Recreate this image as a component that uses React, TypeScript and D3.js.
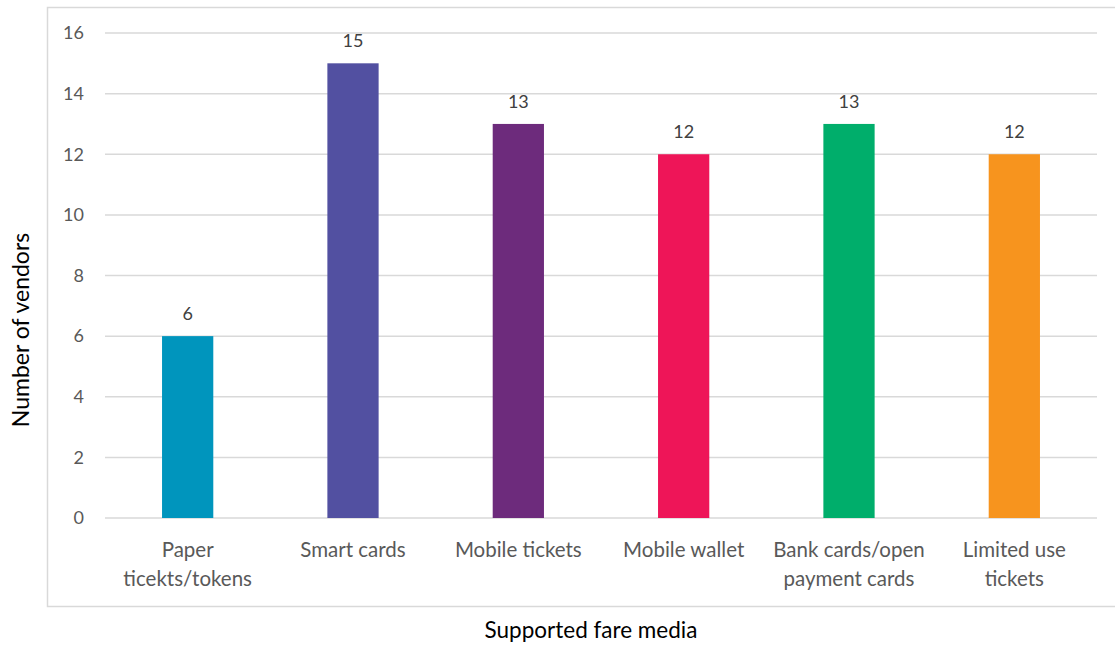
import React from "react";
import * as d3 from "d3";

const categories: string[][] = [
  ["Paper", "ticekts/tokens"],
  ["Smart cards"],
  ["Mobile tickets"],
  ["Mobile wallet"],
  ["Bank cards/open", "payment cards"],
  ["Limited use", "tickets"],
];
const values: number[] = [6, 15, 13, 12, 13, 12];
const colors: string[] = ["#0095BD", "#5250A1", "#6D2B7C", "#EE1558", "#00AE6B", "#F7941E"];
const yTicks: number[] = [0, 2, 4, 6, 8, 10, 12, 14, 16];
const yTitle = "Number of vendors";
const xTitle = "Supported fare media";

const W = 1115;
const H = 645;
const FONT = "Lato, 'Open Sans', sans-serif";

export default function App() {
  const x = d3
    .scaleBand<number>()
    .domain(d3.range(values.length))
    .range([105, 1097])
    .paddingInner(0.69)
    .paddingOuter(0.345);
  const y = d3.scaleLinear().domain([0, 16]).range([518, 33]);

  return (
    <svg
      width={W}
      height={H}
      style={{ position: "absolute", left: 0, top: 0, background: "#fff" }}
      fontFamily={FONT}
    >
      <rect x={0} y={0} width={W} height={H} fill="#fff" />
      {/* chart border */}
      <path d={`M${W},7.5 H47.5 V606.5 H${W}`} fill="none" stroke="#D9D9D9" strokeWidth={1.5} />
      {/* gridlines */}
      {yTicks.map((t) => (
        <line key={t} x1={105} x2={1097} y1={y(t)} y2={y(t)} stroke="#D9D9D9" strokeWidth={1.5} />
      ))}
      {/* y tick labels */}
      {yTicks.map((t) => (
        <text key={t} x={84} y={y(t)} dy="0.35em" textAnchor="end" fill="#595959" fontSize={18}>
          {t}
        </text>
      ))}
      {/* bars */}
      {values.map((v, i) => (
        <rect key={i} x={x(i)} y={y(v)} width={x.bandwidth()} height={y(0) - y(v)} fill={colors[i]} />
      ))}
      {/* value labels */}
      {values.map((v, i) => (
        <text
          key={i}
          x={(x(i) as number) + x.bandwidth() / 2}
          y={y(v) - 16}
          textAnchor="middle"
          fill="#404040"
          fontSize={18}
        >
          {v}
        </text>
      ))}
      {/* category labels */}
      {categories.map((lines, i) => (
        <text
          key={i}
          x={(x(i) as number) + x.bandwidth() / 2}
          y={557}
          textAnchor="middle"
          fill="#595959"
          fontSize={20.5}
        >
          {lines.map((l, j) => (
            <tspan key={j} x={(x(i) as number) + x.bandwidth() / 2} dy={j === 0 ? 0 : 28.5}>
              {l}
            </tspan>
          ))}
        </text>
      ))}
      {/* axis titles */}
      <text
        transform={`translate(29,330) rotate(-90)`}
        textAnchor="middle"
        fill="#000"
        fontSize={23}
      >
        {yTitle}
      </text>
      <text x={591} y={638} textAnchor="middle" fill="#000" fontSize={22.5}>
        {xTitle}
      </text>
    </svg>
  );
}
